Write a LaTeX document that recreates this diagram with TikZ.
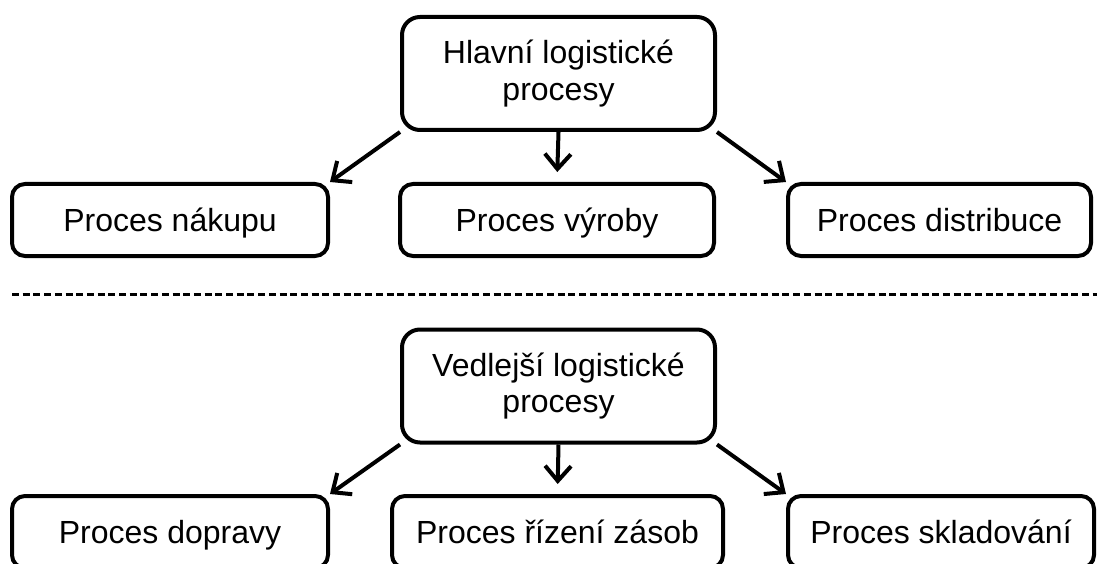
\documentclass[tikz,border=0pt]{standalone}
\usepackage{fontspec}
\setmainfont{Liberation Sans}
\usetikzlibrary{arrows.meta}

\tikzset{
  boxbase/.style={draw, line width=4pt, align=center, inner sep=0pt,
    font=\fontsize{32}{36.5}\selectfont},
  procbox/.style={boxbase, rounded corners=13pt, minimum height=72pt,
    text height=23pt, text depth=1pt},
  headbox/.style={boxbase, rounded corners=18pt, minimum width=313pt,
    minimum height=113pt},
  link/.style={line width=4pt, -{Straight Barb[length=15pt,width=26pt]}},
  divider/.style={line width=3pt, dash pattern=on 7pt off 3.7pt}
}

\begin{document}
\begin{tikzpicture}[x=1pt, y=-1pt]
  \clip (0,0) rectangle (1097,564);
  \fill[white] (0,0) rectangle (1097,564);

  % main logistic processes
  \node[headbox] (hlavni) at (558.5,73.5) {Hlavní logistické\\procesy};
  \node[procbox, minimum width=316pt] (nakup) at (170,220) {Proces nákupu};
  \node[procbox, minimum width=314pt] (vyroba) at (557,220) {Proces výroby};
  \node[procbox, minimum width=303pt] (distr) at (939.5,220) {Proces distribuce};

  \draw[link] (hlavni.south west) -- (nakup.north east);
  \draw[link, shorten >=10pt] (hlavni.south) -- (vyroba.north);
  \draw[link] (hlavni.south east) -- (distr.north west);

  % separator
  \coordinate (sepL) at (12,294);
  \coordinate (sepR) at (1097,294);
  \draw[divider] (sepL) -- (sepR);

  % supporting logistic processes
  \node[headbox] (vedlejsi) at (558.5,386) {Vedlejší logistické\\procesy};
  \node[procbox, minimum width=316pt] (doprava) at (170,532) {Proces dopravy};
  \node[procbox, minimum width=331pt] (zasoby) at (557.5,532) {Proces řízení zásob};
  \node[procbox, minimum width=306pt] (sklad) at (941,532) {Proces skladování};

  \draw[link] (vedlejsi.south west) -- (doprava.north east);
  \draw[link, shorten >=10pt] (vedlejsi.south) -- (zasoby.north);
  \draw[link] (vedlejsi.south east) -- (sklad.north west);
\end{tikzpicture}
\end{document}
